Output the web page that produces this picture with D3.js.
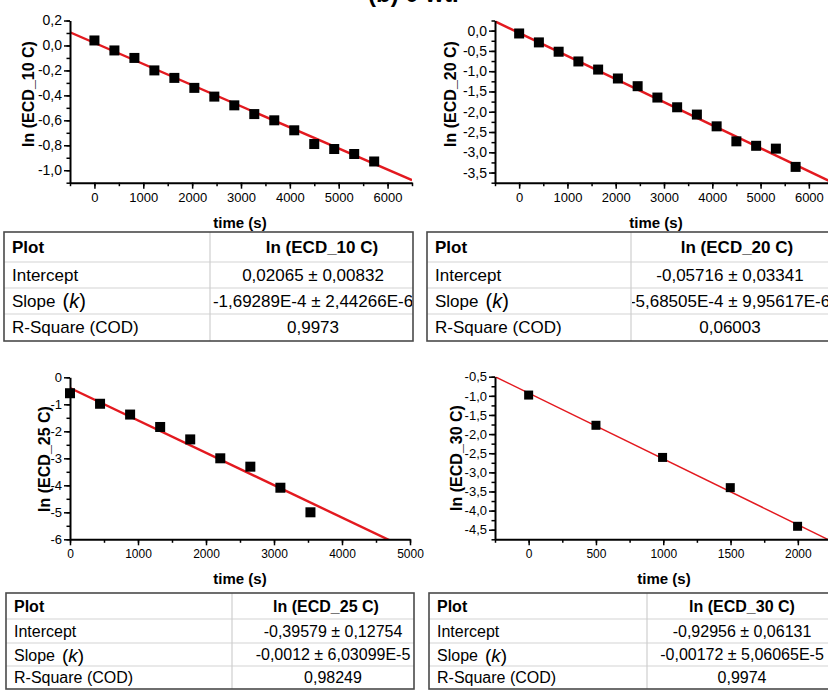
<!DOCTYPE html>
<html><head><meta charset="utf-8">
<script src="https://cdn.jsdelivr.net/npm/d3@7"></script>
<style>
body{margin:0;background:#fff}
svg{display:block}
text{font-family:"Liberation Sans",Arial,sans-serif;fill:#000}
</style>
</head><body>
<svg id="c" width="828" height="691"></svg>
<script>
// ---------- data ----------
const time10 = [0, 409, 818, 1227, 1636, 2045, 2454, 2863, 3272, 3681, 4090, 4499, 4908, 5317, 5726];
const ln10   = [0.04, -0.04, -0.10, -0.20, -0.26, -0.34, -0.41, -0.48, -0.55, -0.60, -0.68, -0.79, -0.83, -0.87, -0.93];
const time20 = [0, 409, 818, 1227, 1636, 2045, 2454, 2863, 3272, 3681, 4090, 4499, 4908, 5317, 5726];
const ln20   = [-0.07, -0.29, -0.52, -0.76, -0.96, -1.18, -1.37, -1.65, -1.89, -2.07, -2.36, -2.73, -2.84, -2.91, -3.36];
const time25 = [0, 442, 884, 1326, 1768, 2210, 2652, 3094, 3536];
const ln25   = [-0.59, -0.98, -1.38, -1.84, -2.30, -3.00, -3.31, -4.09, -5.00];
const time30 = [0, 500, 995, 1498, 1998];
const ln30   = [-0.98, -1.77, -2.61, -3.40, -4.41];

const fitIntercepts = [0.02065, -0.05716, -0.39579, -0.92956];
const fitSlopes     = [-1.69289e-4, -5.68505e-4, -0.0012, -0.00172];

const yTitles = ["ln (ECD_10 C)", "ln (ECD_20 C)", "ln (ECD_25 C)", "ln (ECD_30 C)"];
const xTitle = "time (s)";
const pageTitle = "(b) 0 wt.";

// tick values
const xTicks10 = [0, 1000, 2000, 3000, 4000, 5000, 6000];
const yTicks10 = [0.2, 0.0, -0.2, -0.4, -0.6, -0.8, -1.0];
const xTicks20 = [0, 1000, 2000, 3000, 4000, 5000, 6000];
const yTicks20 = [0.0, -0.5, -1.0, -1.5, -2.0, -2.5, -3.0, -3.5];
const xTicks25 = [0, 1000, 2000, 3000, 4000, 5000];
const yTicks25 = [0, -1, -2, -3, -4, -5, -6];
const xTicks30 = [0, 500, 1000, 1500, 2000];
const yTicks30 = [-0.5, -1.0, -1.5, -2.0, -2.5, -3.0, -3.5, -4.0, -4.5];

// table texts
const rowLabels = ["Plot", "Intercept", "Slope", "R-Square (COD)"];
const tableHeaders = ["ln (ECD_10 C)", "ln (ECD_20 C)", "ln (ECD_25 C)", "ln (ECD_30 C)"];
const interceptTexts = ["0,02065 \u00b1 0,00832", "-0,05716 \u00b1 0,03341", "-0,39579 \u00b1 0,12754", "-0,92956 \u00b1 0,06131"];
const slopeTexts = ["-1,69289E-4 \u00b1 2,44266E-6", "-5,68505E-4 \u00b1 9,95617E-6", "-0,0012 \u00b1 6,03099E-5", "-0,00172 \u00b1 5,06065E-5"];
const r2Texts = ["0,9973", "0,06003", "0,98249", "0,9974"];

// ---------- layout ----------
const svg = d3.select("#c");
const RED = "#e3191f";

const comma1 = v => (Math.abs(v) < 1e-9 ? 0 : v).toFixed(1).replace(".", ",");
const intFmt = v => String(Math.round(v));

const panels = [
  {xs: time10, ys: ln10, a: fitIntercepts[0], b: fitSlopes[0], xd: [-500, 6500], yd: [-1.1, 0.2],
   px: [70, 412], py: [20.5, 182.7], xT: xTicks10, xMinorStep: 500, yT: yTicks10, yMinorStep: 0.1,
   yFmt: comma1, fs: 13, yfs: 14, lw: 2.4, ms: 10, ytx: 28, yty: 94, ttx: 240, tty: 222},
  {xs: time20, ys: ln20, a: fitIntercepts[1], b: fitSlopes[1], xd: [-500, 6500], yd: [-3.75, 0.25],
   px: [495, 833], py: [20.5, 182.7], xT: xTicks20, xMinorStep: 500, yT: yTicks20, yMinorStep: 0.25,
   yFmt: comma1, fs: 13, yfs: 14, lw: 2.4, ms: 10, ytx: 450, yty: 94, ttx: 656, tty: 222},
  {xs: time25, ys: ln25, a: fitIntercepts[2], b: fitSlopes[2], xd: [0, 5000], yd: [-6, 0],
   px: [70, 410], py: [377.3, 539.3], xT: xTicks25, xMinorStep: 500, yT: yTicks25, yMinorStep: 0.5,
   yFmt: intFmt, fs: 12, yfs: 13, lw: 2.4, ms: 10, ytx: 44, yty: 459, ttx: 240, tty: 578},
  {xs: time30, ys: ln30, a: fitIntercepts[3], b: fitSlopes[3], xd: [-250, 2250], yd: [-4.75, -0.5],
   px: [495, 831.5], py: [376.7, 539.3], xT: xTicks30, xMinorStep: 250, yT: yTicks30, yMinorStep: 0.25,
   yFmt: comma1, fs: 12, yfs: 13, lw: 1.5, ms: 9, ytx: 456, yty: 458, ttx: 664, tty: 578}
];

const defs = svg.append("defs");

panels.forEach((p, i) => {
  const x = d3.scaleLinear().domain(p.xd).range(p.px);
  const y = d3.scaleLinear().domain(p.yd).range([p.py[1], p.py[0]]);
  const g = svg.append("g");

  defs.append("clipPath").attr("id", "clip" + i).append("rect")
    .attr("x", p.px[0]).attr("y", p.py[0])
    .attr("width", p.px[1] - p.px[0]).attr("height", p.py[1] - p.py[0]);

  // fit line
  const fitPts = p.xd.map(t => [t, p.a + p.b * t]);
  g.append("path").datum(fitPts)
    .attr("clip-path", `url(#clip${i})`)
    .attr("d", d3.line().x(d => x(d[0])).y(d => y(d[1])))
    .attr("fill", "none").attr("stroke", RED).attr("stroke-width", p.lw);

  // minor ticks
  const xMinor = d3.range(Math.ceil(p.xd[0] / p.xMinorStep), Math.floor(p.xd[1] / p.xMinorStep) + 1).map(k => k * p.xMinorStep);
  const yMinor = d3.range(Math.ceil(p.yd[0] / p.yMinorStep - 1e-6), Math.floor(p.yd[1] / p.yMinorStep + 1e-6) + 1).map(k => k * p.yMinorStep);

  const xMinAx = g.append("g").attr("transform", `translate(0,${p.py[1]})`)
    .call(d3.axisBottom(x).tickValues(xMinor).tickSize(3.5).tickFormat(""));
  xMinAx.select(".domain").remove();
  const yMinAx = g.append("g").attr("transform", `translate(${p.px[0]},0)`)
    .call(d3.axisLeft(y).tickValues(yMinor).tickSize(3.5).tickFormat(""));
  yMinAx.select(".domain").remove();

  // major axes
  const xa = g.append("g").attr("transform", `translate(0,${p.py[1]})`)
    .call(d3.axisBottom(x).tickValues(p.xT).tickSize(6).tickSizeOuter(0).tickPadding(4).tickFormat(intFmt));
  const ya = g.append("g").attr("transform", `translate(${p.px[0]},0)`)
    .call(d3.axisLeft(y).tickValues(p.yT).tickSize(6).tickSizeOuter(0).tickPadding(2).tickFormat(p.yFmt));

  [xa, ya, xMinAx, yMinAx].forEach(a => {
    a.selectAll("line").attr("stroke", "#000").attr("stroke-width", 1.5);
    a.selectAll(".domain").attr("stroke", "#000").attr("stroke-width", 2);
    a.selectAll("text").attr("font-family", '"Liberation Sans",Arial,sans-serif').attr("fill", "#000");
  });
  xa.selectAll("text").attr("font-size", p.fs);
  ya.selectAll("text").attr("font-size", p.yfs);

  // data squares
  g.selectAll("rect.pt").data(p.xs.map((t, k) => [t, p.ys[k]])).join("rect")
    .attr("class", "pt")
    .attr("x", d => x(d[0]) - p.ms / 2).attr("y", d => y(d[1]) - p.ms / 2)
    .attr("width", p.ms).attr("height", p.ms).attr("fill", "#000");

  // titles
  g.append("text").attr("transform", `translate(${p.ytx},${p.yty}) rotate(-90)`)
    .attr("text-anchor", "middle").attr("dominant-baseline", "central")
    .attr("font-weight", "bold").attr("font-size", 16).text(yTitles[i]);
  g.append("text").attr("x", p.ttx).attr("y", p.tty)
    .attr("text-anchor", "middle").attr("dominant-baseline", "central")
    .attr("font-weight", "bold").attr("font-size", 15).text(xTitle);
});

// page title (mostly cut off at the top)
svg.append("text").attr("x", 368).attr("y", 2)
  .attr("font-weight", "bold").attr("font-size", 24).text(pageTitle);

// ---------- tables ----------
const tables = [
  {x0: 4, x1: 413, div: 210, rows: [232, 262, 288, 314, 341], hcx: 322, vcx: 313, fs: 17},
  {x0: 427, x1: 834, div: 631, rows: [232, 262, 288, 314, 341], hcx: 737, vcx: 730, fs: 17},
  {x0: 6, x1: 414, div: 232, rows: [593, 619, 643, 666, 689], hcx: 326, vcx: 333, fs: 16},
  {x0: 429, x1: 836, div: 647, rows: [593, 619, 643, 666, 689], hcx: 742, vcx: 742, fs: 16}
];

tables.forEach((t, i) => {
  const g = svg.append("g");
  const r = t.rows;
  defs.append("clipPath").attr("id", "tclip" + i).append("rect")
    .attr("x", t.div + 1).attr("y", r[0]).attr("width", t.x1 - t.div - 2).attr("height", r[4] - r[0]);

  // inner lines
  for (let k = 1; k < 4; k++) {
    g.append("line").attr("x1", t.x0).attr("x2", t.x1).attr("y1", r[k]).attr("y2", r[k])
      .attr("stroke", "#d4d4d4").attr("stroke-width", 1.2);
  }
  g.append("line").attr("x1", t.div).attr("x2", t.div).attr("y1", r[0]).attr("y2", r[4])
    .attr("stroke", "#cfcfcf").attr("stroke-width", 1.2);
  // outer border
  g.append("rect").attr("x", t.x0).attr("y", r[0]).attr("width", t.x1 - t.x0).attr("height", r[4] - r[0])
    .attr("fill", "none").attr("stroke", "#4a4a4a").attr("stroke-width", 1.6);

  const cy = k => (r[k] + r[k + 1]) / 2;
  // row labels
  g.append("text").attr("x", t.x0 + 8).attr("y", cy(0)).attr("dominant-baseline", "central")
    .attr("font-size", t.fs).attr("font-weight", "bold").text(rowLabels[0]);
  g.append("text").attr("x", t.x0 + 8).attr("y", cy(1)).attr("dominant-baseline", "central")
    .attr("font-size", t.fs).text(rowLabels[1]);
  const sl = g.append("text").attr("x", t.x0 + 8).attr("y", cy(2)).attr("dominant-baseline", "central")
    .attr("font-size", t.fs);
  sl.append("tspan").text(rowLabels[2]);
  sl.append("tspan").attr("dx", 7).attr("font-size", t.fs + 3).text("(");
  sl.append("tspan").attr("font-size", t.fs + 3).attr("font-style", "italic").text("k");
  sl.append("tspan").attr("font-size", t.fs + 3).text(")");
  g.append("text").attr("x", t.x0 + 8).attr("y", cy(3)).attr("dominant-baseline", "central")
    .attr("font-size", t.fs).text(rowLabels[3]);

  // value column
  const vg = g.append("g").attr("clip-path", `url(#tclip${i})`);
  vg.append("text").attr("x", t.hcx).attr("y", cy(0)).attr("dominant-baseline", "central")
    .attr("text-anchor", "middle").attr("font-size", t.fs).attr("font-weight", "bold").text(tableHeaders[i]);
  [interceptTexts[i], slopeTexts[i], r2Texts[i]].forEach((s, k) => {
    vg.append("text").attr("x", t.vcx).attr("y", cy(k + 1)).attr("dominant-baseline", "central")
      .attr("text-anchor", "middle").attr("font-size", t.fs).text(s);
  });
});
</script>
</body></html>
